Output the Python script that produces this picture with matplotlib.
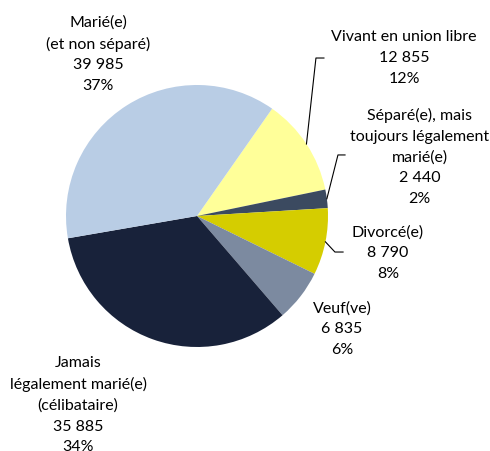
import matplotlib.pyplot as plt
import numpy as np

# données (sens horaire à partir de "Vivant en union libre")
categories = ['Vivant en union libre', 'Séparé(e), mais\ntoujours légalement\nmarié(e)',
              'Divorcé(e)', 'Veuf(ve)', 'Jamais\nlégalement marié(e)\n(célibataire)',
              'Marié(e)\n(et non séparé)']
values = [12855, 2440, 8790, 6835, 35885, 39985]
value_labels = ['12 855', '2 440', '8 790', '6 835', '35 885', '39 985']
pct_labels = ['12%', '2%', '8%', '6%', '34%', '37%']
colors = ['#FFFF99', '#3B4A60', '#D5CD00', '#7C8AA0', '#18223A', '#B9CDE5']

plt.rcParams['font.family'] = ['Lato', 'DejaVu Sans']

fig = plt.figure(figsize=(4.9, 4.51), dpi=100)
ax = fig.add_axes([0, 0, 1, 1])
R = 131.0
cx, cy = 197, 216

wedges, _ = ax.pie(values, colors=colors, startangle=55, counterclock=False,
                   radius=1.0, center=(0, 0), frame=True,
                   wedgeprops=dict(linewidth=0))
ax.set_xlim(-cx / R, (490 - cx) / R)
ax.set_ylim((cy - 451) / R, cy / R)
ax.axis('off')

# positions des étiquettes (en unités de rayon)
text_pos = [(1.58, 1.206), (1.70, 0.45), (1.458, -0.282), (1.107, -0.863),
            (-0.908, -1.443), (-0.756, 1.237)]
# lignes de rappel : coude et fin
leaders = {0: [(0.908, 1.206), (0.969, 1.206)],
           1: [(1.076, 0.466), (1.130, 0.466)],
           2: [(1.053, -0.275), (1.115, -0.275)]}

for i, w in enumerate(wedges):
    label = f'{categories[i]}\n{value_labels[i]}\n{pct_labels[i]}'
    ax.text(text_pos[i][0], text_pos[i][1], label, ha='center', va='center',
            fontsize=11.5, color='black', linespacing=1.6)
    if i in leaders:
        ang = np.deg2rad((w.theta1 + w.theta2) / 2)
        xs = [np.cos(ang)] + [p[0] for p in leaders[i]]
        ys = [np.sin(ang)] + [p[1] for p in leaders[i]]
        ax.plot(xs, ys, color='black', linewidth=0.8)

fig.savefig('out.png', dpi=100)
